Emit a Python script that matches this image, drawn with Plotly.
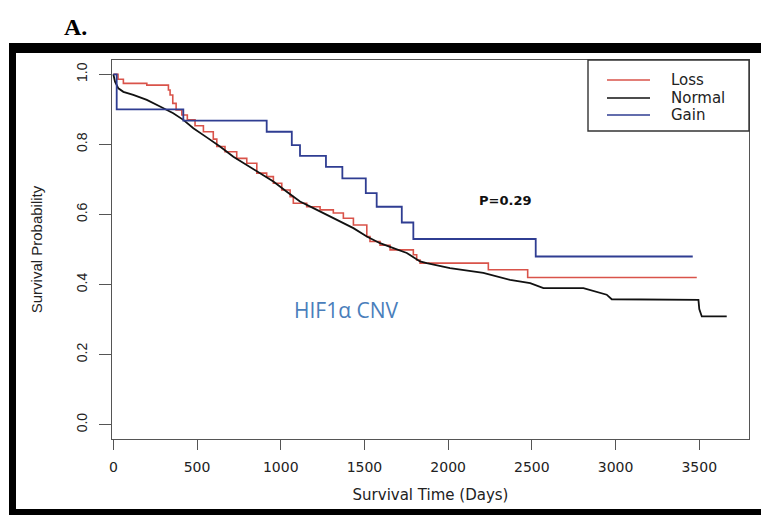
import plotly.graph_objects as go

# ---------------- data ----------------
gain_days = [0, 20, 418, 916, 1066, 1115, 1270, 1368, 1508, 1573, 1723, 1792, 2523, 3461]
gain_surv = [1.0, 0.90, 0.868, 0.836, 0.798, 0.767, 0.736, 0.703, 0.661, 0.622, 0.577, 0.530, 0.48, 0.48]

loss_days = [0, 28, 60, 200, 329, 339, 355, 375, 409, 442, 488, 538, 597, 618, 667, 737, 797,
             857, 916, 956, 1006, 1056, 1075, 1155, 1235, 1314, 1374, 1434, 1514, 1533, 1593,
             1653, 1792, 1812, 1832, 2240, 2475, 3485]
loss_surv = [1.0, 0.986, 0.974, 0.969, 0.955, 0.941, 0.917, 0.898, 0.884, 0.870, 0.853, 0.836,
             0.815, 0.794, 0.779, 0.760, 0.746, 0.718, 0.708, 0.689, 0.670, 0.651, 0.632, 0.622,
             0.613, 0.604, 0.589, 0.570, 0.537, 0.523, 0.512, 0.499, 0.485, 0.470, 0.461, 0.442,
             0.42, 0.42]

normal_days = [0, 10, 30, 60, 119, 200, 279, 358, 418, 478, 558, 637, 717, 797, 876, 956, 1036,
               1115, 1195, 1275, 1354, 1434, 1514, 1593, 1673, 1753, 1832, 1872, 2011, 2210,
               2370, 2490, 2569, 2808, 2947, 2977, 3495, 3500, 3515, 3664]
normal_surv = [1.0, 0.979, 0.960, 0.950, 0.941, 0.927, 0.908, 0.889, 0.870, 0.846, 0.820, 0.794,
               0.765, 0.741, 0.718, 0.694, 0.665, 0.637, 0.618, 0.599, 0.580, 0.561, 0.537, 0.518,
               0.504, 0.490, 0.466, 0.461, 0.447, 0.433, 0.413, 0.404, 0.390, 0.390, 0.371, 0.358,
               0.356, 0.33, 0.309, 0.309]

series_names = ["Loss", "Normal", "Gain"]
x_ticks = [0, 500, 1000, 1500, 2000, 2500, 3000, 3500]
y_ticks = [0.0, 0.2, 0.4, 0.6, 0.8, 1.0]
p_text = "P=0.29"
panel_label = "A."
cnv_label = "HIF1α CNV"

# ---------------- layout geometry ----------------
W, H = 761, 515
L, R, T, B = 112, 12, 60, 76
PW, PH = W - L - R, H - T - B


def px_x(p):
    return (p - L) / PW


def px_y(p):
    return (H - B - p) / PH


RED = "#d9534a"
BLACK = "#111111"
BLUE = "#2f3d92"
AXC = "#555555"
colors = [RED, BLACK, BLUE]

fig = go.Figure()
fig.add_trace(go.Scatter(x=loss_days, y=loss_surv, mode="lines", name=series_names[0],
                         line=dict(color=RED, width=1.6, shape="hv")))
fig.add_trace(go.Scatter(x=normal_days, y=normal_surv, mode="lines", name=series_names[1],
                         line=dict(color=BLACK, width=1.8, shape="linear")))
fig.add_trace(go.Scatter(x=gain_days, y=gain_surv, mode="lines", name=series_names[2],
                         line=dict(color=BLUE, width=1.8, shape="hv")))

tickfont = dict(family="DejaVu Sans", size=14, color="#222222")

fig.update_layout(
    width=W, height=H,
    margin=dict(l=L, r=R, t=T, b=B),
    paper_bgcolor="white", plot_bgcolor="white",
    showlegend=False,
    xaxis=dict(range=[-8, 3797], tickvals=x_ticks, ticks="outside", ticklen=10,
               tickwidth=1.4, tickcolor=AXC, showline=True, mirror=True,
               linecolor=AXC, linewidth=1.4, showgrid=False, zeroline=False,
               tickfont=tickfont, ticklabelstandoff=5,
               title=dict(text="Survival Time (Days)",
                          font=dict(family="DejaVu Sans", size=15, color="#222222"),
                          standoff=15)),
    yaxis=dict(range=[-0.0408, 1.0408], tickvals=y_ticks, tickformat=".1f",
               ticks="outside", ticklen=12, tickwidth=1.4, tickcolor=AXC,
               showline=True, mirror=True, linecolor=AXC, linewidth=1.4,
               showgrid=False, zeroline=False, tickangle=-90,
               tickfont=dict(family="Liberation Sans", size=14, color="#222222"),
               ticklabelstandoff=6,
               title=dict(text="Survival Probability",
                          font=dict(family="Liberation Sans", size=15, color="#222222"),
                          standoff=27)),
)

# legend (box, line samples, labels)
fig.add_shape(type="rect", xref="paper", yref="paper",
              x0=px_x(588), x1=px_x(749), y0=px_y(131), y1=px_y(60),
              line=dict(color="#333333", width=1.4), fillcolor="rgba(0,0,0,0)")
legend_rows = [80, 98, 115]
for name, col, yy in zip(series_names, colors, legend_rows):
    fig.add_shape(type="line", xref="paper", yref="paper",
                  x0=px_x(607), x1=px_x(650), y0=px_y(yy), y1=px_y(yy),
                  line=dict(color=col, width=1.6))
    fig.add_annotation(x=px_x(669), y=px_y(yy), xref="paper", yref="paper",
                       xanchor="left", yanchor="middle", text=name, showarrow=False,
                       font=dict(family="DejaVu Sans", size=15, color="#222222"))

# outer black frame (top, left, bottom bars)
for (x0, x1, y0, y1) in [(9, 761, 43, 53), (9, 16, 43, 515), (9, 761, 509, 515)]:
    fig.add_shape(type="rect", xref="paper", yref="paper",
                  x0=px_x(x0), x1=px_x(x1), y0=px_y(y1), y1=px_y(y0),
                  line=dict(width=0), fillcolor="black")

# annotations
fig.add_annotation(x=2340, y=0.639, xref="x", yref="y", text=p_text, showarrow=False,
                   xanchor="center", yanchor="middle",
                   font=dict(family="DejaVu Sans", size=13, color="#111111", weight="bold"))
fig.add_annotation(x=1394, y=0.328, xref="x", yref="y", text=cnv_label, showarrow=False,
                   xanchor="center", yanchor="middle",
                   font=dict(family="Open Sans", size=21, color="#4a7ebb"))
fig.add_annotation(x=px_x(75), y=px_y(27), xref="paper", yref="paper", text=panel_label,
                   showarrow=False, xanchor="center", yanchor="middle",
                   font=dict(family="Liberation Serif", size=24, color="black", weight="bold"))

fig.write_html("out.html", config={"displayModeBar": False},
               post_script="document.body.style.margin='0';")
